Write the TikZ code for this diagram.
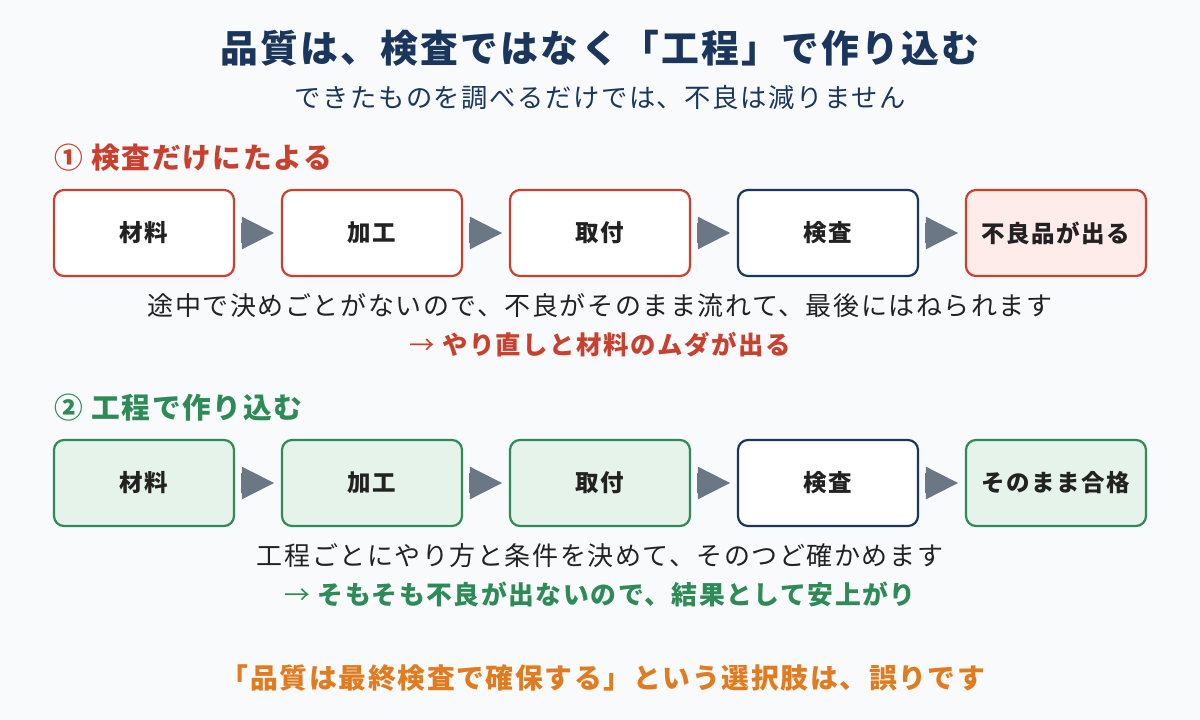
\documentclass[tikz,border=0pt]{standalone}
\usepackage{fontspec}
\setmainfont{Noto Sans CJK JP}[LetterSpace=6]
\usetikzlibrary{arrows.meta}
\definecolor{bg}{HTML}{F8FAFC}
\definecolor{navy}{HTML}{1B365D}
\definecolor{redc}{HTML}{C8412F}
\definecolor{greenc}{HTML}{2E8B57}
\definecolor{orangec}{HTML}{E07B20}
\definecolor{arrg}{HTML}{6B7785}
\definecolor{txt}{HTML}{222222}
\definecolor{redfill}{HTML}{FDECEA}
\definecolor{greenfill}{HTML}{E6F3EA}
\tikzset{
  fs/.style={font=\fontsize{#1}{#1}\selectfont},
  fsb/.style={font=\fontsize{#1}{#1}\selectfont\bfseries},
  box/.style={draw, line width=2.2pt, rounded corners=10pt, minimum width=180pt, minimum height=86pt, inner sep=0pt, text=txt, font=\fontsize{23.5}{23.5}\selectfont\bfseries},
  redbox/.style={box, draw=redc, fill=white},
  navybox/.style={box, draw=navy, fill=white},
  redbadbox/.style={box, draw=redc, fill=redfill},
  greenbox/.style={box, draw=greenc, fill=greenfill},
  arr/.style={draw=arrg, line width=20pt, -{Triangle[length=33pt,width=30pt]}},
}
\begin{document}
\begin{tikzpicture}[x=1pt,y=-1pt]
\fill[bg] (0,0) rectangle (1200,720);
\useasboundingbox (0,0) rectangle (1200,720);
\node[fsb=37.8, text=navy] (title) at (600,48) {品質は、検査ではなく「工程」で作り込む};
\node[fs=26.3, text=navy] (sub) at (600,98) {できたものを調べるだけでは、不良は減りません};
\node[fsb=28.7, text=redc, anchor=west, inner sep=0pt] (h1) at (54,158) {① 検査だけにたよる};
\foreach \n/\x/\s/\t in {a1/144/redbox/材料, a2/372/redbox/加工, a3/600/redbox/取付, a4/828/navybox/検査, a5/1056/redbadbox/不良品が出る}{
  \node[\s] (\n) at (\x,233) {\t};
}
\foreach \p/\q in {a1/a2,a2/a3,a3/a4,a4/a5}{
  \draw[arr] ([xshift=6pt]\p.east) -- ([xshift=-6pt]\q.west);
}
\node[fs=26, text=txt] (l1) at (600,306) {途中で決めごとがないので、不良がそのまま流れて、最後にはねられます};
\node[fsb=25.4, text=redc] (l2) at (600,345) {{\mdseries →} やり直しと材料のムダが出る};
\node[fsb=28.7, text=greenc, anchor=west, inner sep=0pt] (h2) at (54,408) {② 工程で作り込む};
\foreach \n/\x/\s/\t in {b1/144/greenbox/材料, b2/372/greenbox/加工, b3/600/greenbox/取付, b4/828/navybox/検査, b5/1056/greenbox/そのまま合格}{
  \node[\s] (\n) at (\x,483) {\t};
}
\foreach \p/\q in {b1/b2,b2/b3,b3/b4,b4/b5}{
  \draw[arr] ([xshift=6pt]\p.east) -- ([xshift=-6pt]\q.west);
}
\node[fs=26, text=txt] (l3) at (600,556) {工程ごとにやり方と条件を決めて、そのつど確かめます};
\node[fsb=25.8, text=greenc] (l4) at (600,594) {{\mdseries →} そもそも不良が出ないので、結果として安上がり};
\node[fsb=27.8, text=orangec] (bot) at (603,678) {「品質は最終検査で確保する」という選択肢は、誤りです};
\end{tikzpicture}
\end{document}
